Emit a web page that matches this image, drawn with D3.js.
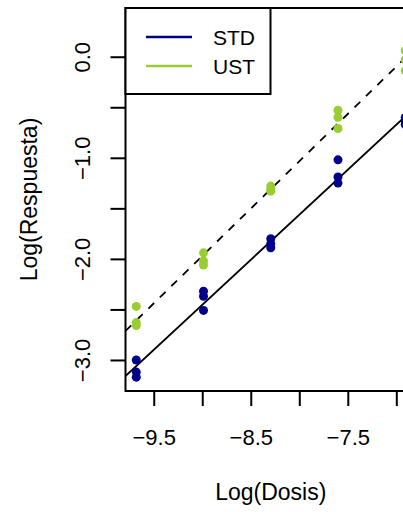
<!DOCTYPE html>
<html>
<head>
<meta charset="utf-8">
<script src="https://cdn.jsdelivr.net/npm/d3@7"></script>
<style>
  body { margin: 0; background: #fff; }
  text { font-family: "Liberation Sans", Arial, Helvetica, sans-serif; fill: #000; }
</style>
</head>
<body>
<div id="chart"></div>
<script>
// dose levels (log scale) and three replicate responses per level
var niveles = [-9.680, -8.987, -8.294, -7.601, -6.908];
var respSTD = [[-3.00, -3.12, -3.17], [-2.32, -2.37, -2.51], [-1.80, -1.85, -1.89], [-1.02, -1.19, -1.25], [-0.60, -0.63, -0.67]];
var respUST = [[-2.47, -2.63, -2.66], [-1.94, -2.02, -2.06], [-1.28, -1.31, -1.33], [-0.53, -0.60, -0.71], [0.06, -0.03, -0.14]];

var grupos = ["STD", "UST"];
var colores = ["#00008B", "#9ACD32"];

var xTicks = [-9.5, -9.0, -8.5, -8.0, -7.5, -7.0];
var xLabels = [-9.5, -8.5, -7.5];
var yTicks = [0.0, -0.5, -1.0, -1.5, -2.0, -2.5, -3.0];
var yLabels = [0.0, -1.0, -2.0, -3.0];

var fullWidth = 403;
var fullHeight = 512;
var margin = { left: 125.5, top: 8, right: -13, bottom: 121 };
var width = fullWidth - margin.left - margin.right;
var height = fullHeight - margin.top - margin.bottom;

var svg = d3.select("#chart")
    .append("svg")
    .attr("width", fullWidth)
    .attr("height", fullHeight);

var x = d3.scaleLinear()
    .domain([-9.791, -6.797])
    .range([margin.left, margin.left + width]);

var y = d3.scaleLinear()
    .domain([-3.307, 0.482])
    .range([margin.top + height, margin.top]);

var fmt = d3.format(".1f");

// build point list + least squares fit for each group
var series = [respSTD, respUST].map(function (resp, k) {
    var pts = [];
    niveles.forEach(function (lv, i) {
        resp[i].forEach(function (r) { pts.push({ x: lv, y: r }); });
    });
    var mx = d3.mean(pts, d => d.x), my = d3.mean(pts, d => d.y);
    var sxy = d3.sum(pts, d => (d.x - mx) * (d.y - my));
    var sxx = d3.sum(pts, d => (d.x - mx) * (d.x - mx));
    var b = sxy / sxx;
    return { key: grupos[k], color: colores[k], pts: pts, b: b, a: my - b * mx };
});

svg.append("clipPath").attr("id", "plotclip")
    .append("rect")
    .attr("x", margin.left).attr("y", margin.top)
    .attr("width", width).attr("height", height);

// fitted lines
var dom = x.domain();
svg.append("g").attr("clip-path", "url(#plotclip)")
    .selectAll("line")
    .data(series)
    .enter()
    .append("line")
    .attr("x1", x(dom[0]))
    .attr("x2", x(dom[1]))
    .attr("y1", d => y(d.a + d.b * dom[0]))
    .attr("y2", d => y(d.a + d.b * dom[1]))
    .attr("stroke", "#000")
    .attr("stroke-width", 1.8)
    .attr("stroke-dasharray", (d, i) => i == 1 ? "8,8" : null);

// points
series.forEach(function (s) {
    svg.append("g")
        .selectAll("circle")
        .data(s.pts)
        .enter()
        .append("circle")
        .attr("cx", d => x(d.x))
        .attr("cy", d => y(d.y))
        .attr("r", 4.5)
        .attr("fill", s.color);
});

// box
svg.append("rect")
    .attr("x", margin.left).attr("y", margin.top)
    .attr("width", width).attr("height", height)
    .attr("fill", "none")
    .attr("stroke", "#000")
    .attr("stroke-width", 2);

// x axis
var xAxis = svg.append("g")
    .attr("transform", "translate(0," + (margin.top + height) + ")")
    .call(d3.axisBottom(x).tickValues(xTicks).tickSize(15)
        .tickFormat(d => xLabels.indexOf(d) >= 0 ? fmt(d) : ""));
xAxis.select(".domain").remove();
xAxis.selectAll("line").attr("stroke-width", 2);
xAxis.selectAll("text")
    .attr("y", 54).attr("dy", null)
    .style("font-size", "22px");

// y axis
var yAxis = svg.append("g")
    .attr("transform", "translate(" + margin.left + ",0)")
    .call(d3.axisLeft(y).tickValues(yTicks).tickSize(15)
        .tickFormat(d => yLabels.indexOf(d) >= 0 ? fmt(d) : ""));
yAxis.select(".domain").remove();
yAxis.selectAll("line").attr("stroke-width", 2);
yAxis.selectAll("text")
    .attr("transform", "rotate(-90)")
    .attr("x", 0).attr("y", -36).attr("dy", null)
    .attr("text-anchor", "middle")
    .style("font-size", "22px");

// axis titles
svg.append("text")
    .attr("x", margin.left + width / 2)
    .attr("y", 500)
    .attr("text-anchor", "middle")
    .style("font-size", "23px")
    .text("Log(Dosis)");

svg.append("text")
    .attr("transform", "translate(37," + (margin.top + height / 2) + ") rotate(-90)")
    .attr("text-anchor", "middle")
    .style("font-size", "23px")
    .text("Log(Respuesta)");

// legend
var legend = svg.append("g");
legend.append("rect")
    .attr("x", margin.left).attr("y", margin.top)
    .attr("width", 145).attr("height", 86)
    .attr("fill", "#fff")
    .attr("stroke", "#000")
    .attr("stroke-width", 2);

var items = legend.selectAll(".item")
    .data(series)
    .enter()
    .append("g")
    .attr("transform", (d, i) => "translate(0," + (37 + i * 29) + ")");
items.append("line")
    .attr("x1", 146).attr("x2", 192)
    .attr("stroke", d => d.color)
    .attr("stroke-width", 2.7);
items.append("text")
    .attr("x", 213).attr("y", 7.5)
    .style("font-size", "21px")
    .text(d => d.key);
</script>
</body>
</html>
